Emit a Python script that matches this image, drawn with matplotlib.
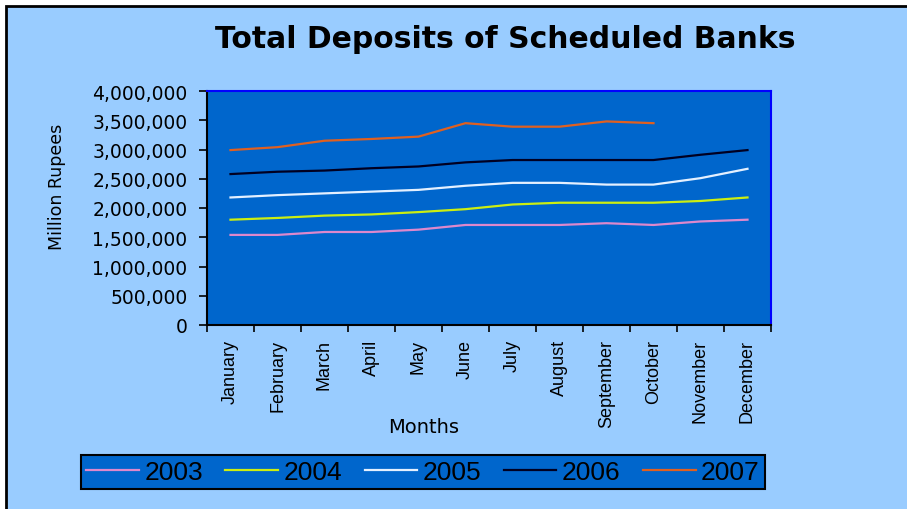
import matplotlib.pyplot as plt
from matplotlib.patches import Rectangle

months = ["January", "February", "March", "April", "May", "June", "July",
          "August", "September", "October", "November", "December"]

# million rupees
dep_2003 = [1540000, 1540000, 1590000, 1590000, 1630000, 1710000,
            1710000, 1710000, 1740000, 1710000, 1770000, 1800000]
dep_2004 = [1800000, 1830000, 1870000, 1890000, 1930000, 1980000,
            2060000, 2090000, 2090000, 2090000, 2120000, 2180000]
dep_2005 = [2180000, 2220000, 2250000, 2280000, 2310000, 2380000,
            2430000, 2430000, 2400000, 2400000, 2510000, 2670000]
dep_2006 = [2580000, 2620000, 2640000, 2680000, 2710000, 2780000,
            2820000, 2820000, 2820000, 2820000, 2910000, 2990000]
dep_2007 = [2990000, 3040000, 3150000, 3180000, 3220000, 3450000,
            3390000, 3390000, 3480000, 3450000]

series = [("2003", dep_2003, "#DD88CC"),
          ("2004", dep_2004, "#CCEE11"),
          ("2005", dep_2005, "#E4F0FF"),
          ("2006", dep_2006, "#000022"),
          ("2007", dep_2007, "#E06020")]

W, H = 907, 510
fig = plt.figure(figsize=(W / 100, H / 100), dpi=100)
fig.patch.set_facecolor("white")
bg = Rectangle((6 / W, -0.1), 1.1, 1.1 - 7 / H, transform=fig.transFigure,
               facecolor="#99CCFF", edgecolor="black", lw=2, zorder=-10)
fig.add_artist(bg)

ax = fig.add_axes([207 / W, 1 - 326 / H, (771 - 207) / W, (326 - 92) / H])
ax.set_facecolor("#0066CC")

x = list(range(len(months)))
for name, vals, col in series:
    ax.plot(x[:len(vals)], vals, color=col, lw=1.6, label=name)

ax.set_xlim(-0.5, 11.5)
ax.set_ylim(0, 4000000)
ax.set_yticks(range(0, 4000001, 500000))
ax.set_yticklabels(["{:,}".format(v) for v in range(0, 4000001, 500000)],
                   fontsize=13.5, family="DejaVu Sans")
ax.set_xticks(x)
ax.set_xticklabels(months, rotation=90, fontsize=13, family="Liberation Sans")
ax.set_xticks([i - 0.5 for i in range(13)], minor=True)
ax.tick_params(axis="x", which="major", length=0, pad=10)
ax.tick_params(axis="x", which="minor", length=5, width=1.2, color="black")
ax.tick_params(axis="y", length=6, width=1.2, pad=8)

for s in ["left", "bottom"]:
    ax.spines[s].set_color("black")
    ax.spines[s].set_linewidth(1.5)
for s in ["top", "right"]:
    ax.spines[s].set_color("#0000FF")
    ax.spines[s].set_linewidth(1.5)

fig.text(505 / W, 1 - 40 / H, "Total Deposits of Scheduled Banks", ha="center", va="center",
         fontsize=21.5, fontweight="bold", family="DejaVu Sans")
fig.text(57 / W, 1 - 187 / H, "Million Rupees", rotation=90, ha="center", va="center",
         fontsize=12.5, family="DejaVu Sans")
fig.text(424 / W, 1 - 428 / H, "Months", ha="center", va="center",
         fontsize=14, family="DejaVu Sans")

leg = fig.legend(loc="center", bbox_to_anchor=(423 / W, 1 - 473 / H), ncol=5,
                 prop={"family": "Liberation Sans", "size": 19},
                 handlelength=2.0, handletextpad=0.2, columnspacing=0.85,
                 borderpad=0.2, borderaxespad=0, frameon=True, fancybox=False)
leg.get_frame().set_facecolor("#0066CC")
leg.get_frame().set_edgecolor("black")
leg.get_frame().set_linewidth(1.5)
leg.get_frame().set_alpha(1)

fig.savefig("out.png", dpi=100)
